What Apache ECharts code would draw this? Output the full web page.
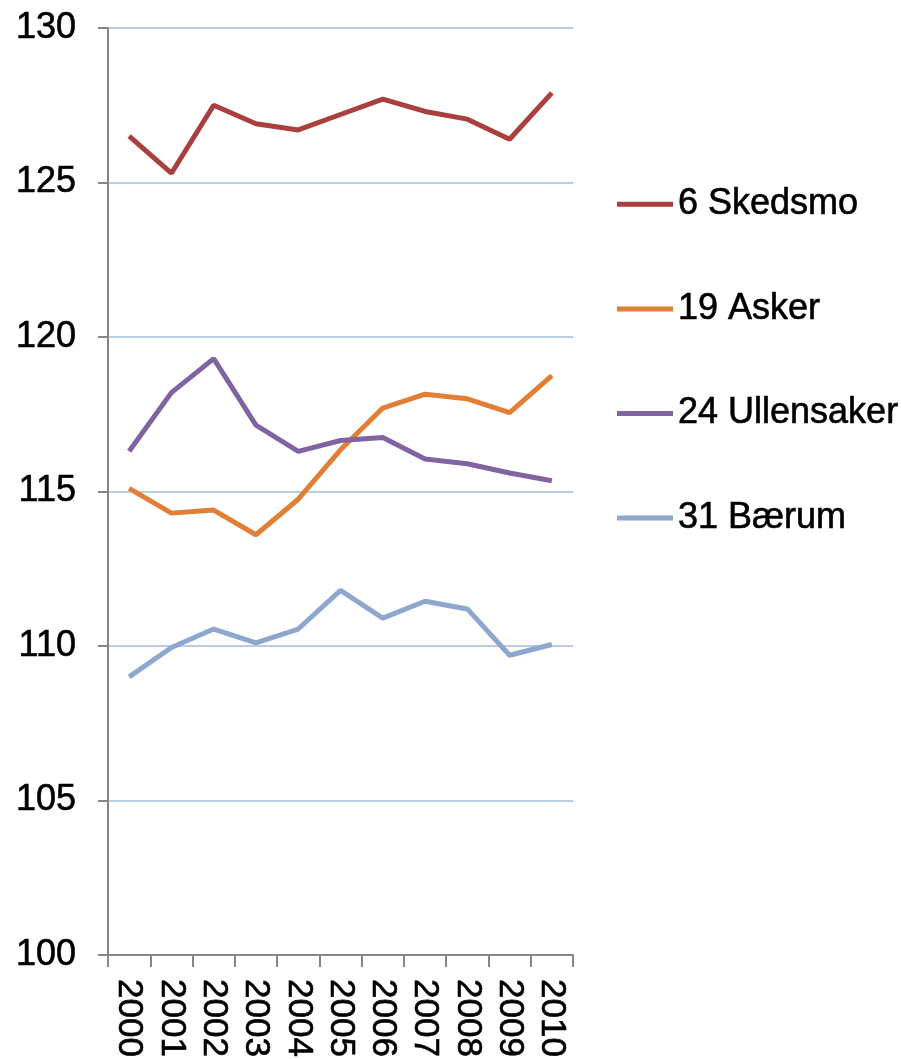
<!DOCTYPE html>
<html>
<head>
<meta charset="utf-8">
<script src="https://cdn.jsdelivr.net/npm/echarts@6/dist/echarts.min.js"></script>
<style>
  html,body{margin:0;padding:0;background:#fff;}
  #chart{width:901px;height:1059px;}
</style>
</head>
<body>
<div id="chart"></div>
<script>
  var years = ['2000','2001','2002','2003','2004','2005','2006','2007','2008','2009','2010'];
  var skedsmo = [126.5, 125.3, 127.5, 126.9, 126.7, 127.2, 127.7, 127.3, 127.05, 126.4, 127.9];
  var asker = [115.1, 114.3, 114.4, 113.6, 114.75, 116.35, 117.7, 118.15, 118.0, 117.55, 118.75];
  var ullensaker = [116.3, 118.2, 119.3, 117.15, 116.3, 116.65, 116.75, 116.05, 115.9, 115.6, 115.35];
  var baerum = [109.0, 109.95, 110.55, 110.1, 110.55, 111.8, 110.9, 111.45, 111.2, 109.7, 110.05];

  var font = 'Liberation Sans, Arial, sans-serif';
  var chart = echarts.init(document.getElementById('chart'));

  function line(name, data, color){
    return {
      name: name,
      type: 'line',
      data: data,
      symbol: 'none',
      color: color,
      lineStyle: {width: 5, color: color}
    };
  }

  var option = {
    animation: false,
    backgroundColor: '#fff',
    grid: {
      left: 108,
      right: 328,
      top: 28,
      bottom: 104,
      outerBoundsMode: 'none'
    },
    legend: {
      orient: 'vertical',
      left: 612,
      top: 181,
      icon: 'rect',
      itemWidth: 56,
      itemHeight: 5,
      itemGap: 68,
      textStyle: {color: '#000', fontSize: 36, fontFamily: font, textBorderColor: '#000', textBorderWidth: 0.6},
      data: ['6 Skedsmo', '19 Asker', '24 Ullensaker', '31 Bærum']
    },
    xAxis: {
      type: 'category',
      data: years,
      boundaryGap: true,
      axisLine: {lineStyle: {color: '#868686', width: 2}},
      axisTick: {show: true, length: 12, lineStyle: {color: '#868686', width: 2}},
      axisLabel: {
        rotate: -90,
        margin: 24,
        color: '#000',
        fontSize: 35,
        fontFamily: font,
        textBorderColor: '#000',
        textBorderWidth: 0.6,
        interval: 0
      }
    },
    yAxis: {
      type: 'value',
      min: 100,
      max: 130,
      interval: 5,
      axisLine: {show: true, lineStyle: {color: '#868686', width: 2}},
      axisTick: {show: true, length: 10, lineStyle: {color: '#868686', width: 2}},
      axisLabel: {margin: 32, color: '#000', fontSize: 36, fontFamily: font, textBorderColor: '#000', textBorderWidth: 0.6},
      splitLine: {lineStyle: {color: '#B9CDE5', width: 2}}
    },
    series: [
      line('6 Skedsmo', skedsmo, '#A9403E'),
      line('19 Asker', asker, '#E07F35'),
      line('24 Ullensaker', ullensaker, '#8064A2'),
      line('31 Bærum', baerum, '#8EA7CF')
    ]
  };
  chart.setOption(option);
</script>
</body>
</html>
